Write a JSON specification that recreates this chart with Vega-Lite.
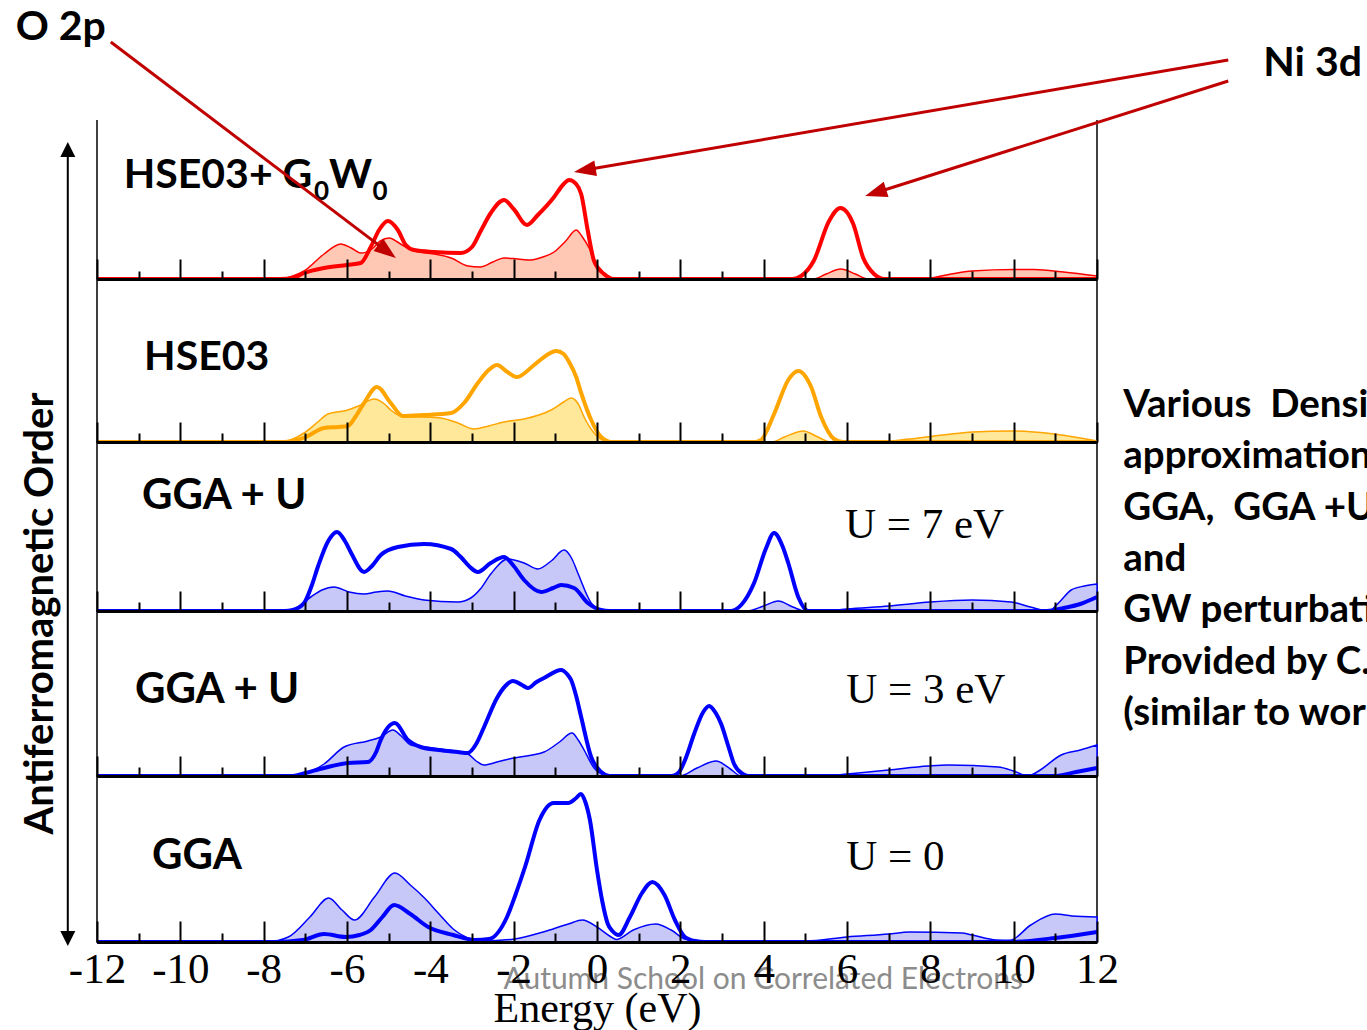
{
  "$schema": "https://vega.github.io/schema/vega-lite/v6.json",
  "background": "white",
  "autosize": {"type": "pad"},
  "padding": {"left": 15, "top": 0, "right": 0, "bottom": 0},
  "bounds": "flush",
  "spacing": 0,
  "config": {"view": {"stroke": "black", "strokeWidth": 1.5}},
  "datasets": {
    "p1_o": [{"E":-12,"dos":0},{"E":-7.6,"dos":0},{"E":-7.3,"dos":3},{"E":-7.03,"dos":8},{"E":-6.55,"dos":25},{"E":-6.15,"dos":35},{"E":-5.9,"dos":31},{"E":-5.67,"dos":26},{"E":-5.4,"dos":30},{"E":-5.2,"dos":38},{"E":-4.99,"dos":41},{"E":-4.75,"dos":36},{"E":-4.47,"dos":29},{"E":-3.91,"dos":25},{"E":-3.5,"dos":21},{"E":-3.1,"dos":13},{"E":-2.8,"dos":12},{"E":-2.5,"dos":17},{"E":-2.23,"dos":21},{"E":-1.9,"dos":20},{"E":-1.58,"dos":19},{"E":-1.3,"dos":22},{"E":-1.03,"dos":27},{"E":-0.75,"dos":38},{"E":-0.5,"dos":49},{"E":-0.35,"dos":42},{"E":-0.19,"dos":31},{"E":-0.02,"dos":15},{"E":0.2,"dos":3},{"E":0.4,"dos":0},{"E":5.2,"dos":0},{"E":5.5,"dos":5},{"E":5.85,"dos":10},{"E":6.2,"dos":5},{"E":6.5,"dos":0},{"E":7.6,"dos":0},{"E":8.0,"dos":1},{"E":8.5,"dos":5},{"E":9.0,"dos":8},{"E":10.0,"dos":9.5},{"E":10.5,"dos":9.5},{"E":11.2,"dos":7},{"E":12,"dos":3}],
    "p1_ni": [{"E":-12,"dos":0},{"E":-7.6,"dos":0},{"E":-7.3,"dos":1},{"E":-7.03,"dos":6},{"E":-6.55,"dos":11},{"E":-6.0,"dos":14},{"E":-5.67,"dos":16},{"E":-5.43,"dos":32},{"E":-5.23,"dos":49},{"E":-5.02,"dos":58},{"E":-4.78,"dos":49},{"E":-4.59,"dos":34},{"E":-4.39,"dos":29},{"E":-3.91,"dos":27},{"E":-3.27,"dos":26},{"E":-3.0,"dos":32},{"E":-2.79,"dos":48},{"E":-2.55,"dos":66},{"E":-2.23,"dos":79},{"E":-2.0,"dos":70},{"E":-1.68,"dos":54},{"E":-1.42,"dos":64},{"E":-1.03,"dos":82},{"E":-0.82,"dos":94},{"E":-0.67,"dos":99},{"E":-0.5,"dos":95},{"E":-0.38,"dos":85},{"E":-0.22,"dos":48},{"E":-0.07,"dos":18},{"E":0.17,"dos":5},{"E":0.4,"dos":0},{"E":4.7,"dos":0},{"E":4.9,"dos":3},{"E":5.2,"dos":18},{"E":5.57,"dos":58},{"E":5.84,"dos":71},{"E":6.15,"dos":55},{"E":6.39,"dos":21},{"E":6.65,"dos":5},{"E":6.9,"dos":0},{"E":12,"dos":0}],
    "p2_o": [{"E":-12,"dos":0},{"E":-7.6,"dos":0},{"E":-7.3,"dos":3},{"E":-7.03,"dos":9},{"E":-6.7,"dos":20},{"E":-6.46,"dos":28},{"E":-5.98,"dos":32},{"E":-5.67,"dos":37},{"E":-5.35,"dos":43},{"E":-5.1,"dos":38},{"E":-4.95,"dos":32},{"E":-4.63,"dos":25},{"E":-4.2,"dos":25},{"E":-3.75,"dos":24},{"E":-3.34,"dos":19},{"E":-2.95,"dos":13},{"E":-2.6,"dos":16},{"E":-2.23,"dos":20},{"E":-1.75,"dos":23},{"E":-1.1,"dos":32},{"E":-0.8,"dos":40},{"E":-0.62,"dos":44},{"E":-0.45,"dos":38},{"E":-0.31,"dos":25},{"E":-0.07,"dos":9},{"E":0.2,"dos":1},{"E":0.4,"dos":0},{"E":4.2,"dos":0},{"E":4.5,"dos":5},{"E":4.95,"dos":11},{"E":5.3,"dos":5},{"E":5.6,"dos":0},{"E":6.6,"dos":0},{"E":7.5,"dos":3},{"E":8.5,"dos":8},{"E":9.0,"dos":10},{"E":9.94,"dos":11},{"E":10.97,"dos":8},{"E":11.6,"dos":4},{"E":12,"dos":1}],
    "p2_ni": [{"E":-12,"dos":0},{"E":-7.5,"dos":0},{"E":-7.2,"dos":2},{"E":-6.99,"dos":5},{"E":-6.55,"dos":14},{"E":-6.2,"dos":15},{"E":-5.98,"dos":16},{"E":-5.8,"dos":25},{"E":-5.59,"dos":39},{"E":-5.28,"dos":55},{"E":-4.95,"dos":39},{"E":-4.66,"dos":26},{"E":-4.15,"dos":27},{"E":-3.5,"dos":29},{"E":-3.19,"dos":39},{"E":-2.86,"dos":59},{"E":-2.6,"dos":72},{"E":-2.4,"dos":77},{"E":-2.15,"dos":70},{"E":-1.92,"dos":65},{"E":-1.51,"dos":77},{"E":-1.2,"dos":87},{"E":-0.98,"dos":91},{"E":-0.8,"dos":88},{"E":-0.67,"dos":80},{"E":-0.5,"dos":65},{"E":-0.38,"dos":49},{"E":-0.14,"dos":22},{"E":0.1,"dos":5},{"E":0.35,"dos":0},{"E":3.8,"dos":0},{"E":3.94,"dos":2},{"E":4.25,"dos":28},{"E":4.59,"dos":62},{"E":4.83,"dos":71},{"E":5.14,"dos":55},{"E":5.38,"dos":25},{"E":5.69,"dos":3},{"E":5.9,"dos":0},{"E":12,"dos":0}],
    "p3_o": [{"E":-12,"dos":0},{"E":-7.5,"dos":0},{"E":-7.27,"dos":2},{"E":-6.87,"dos":14},{"E":-6.6,"dos":21},{"E":-6.31,"dos":24},{"E":-5.95,"dos":19},{"E":-5.59,"dos":17},{"E":-5.3,"dos":19},{"E":-5.02,"dos":20},{"E":-4.6,"dos":15},{"E":-4.15,"dos":11},{"E":-3.34,"dos":9},{"E":-3.03,"dos":13},{"E":-2.8,"dos":22},{"E":-2.55,"dos":37},{"E":-2.14,"dos":52},{"E":-1.75,"dos":48},{"E":-1.42,"dos":42},{"E":-1.1,"dos":50},{"E":-0.79,"dos":61},{"E":-0.6,"dos":52},{"E":-0.46,"dos":38},{"E":-0.14,"dos":8},{"E":0.1,"dos":1},{"E":0.3,"dos":0},{"E":3.6,"dos":0},{"E":4.0,"dos":5},{"E":4.35,"dos":10},{"E":4.7,"dos":4},{"E":5.0,"dos":0},{"E":5.5,"dos":0},{"E":6.0,"dos":2},{"E":7.0,"dos":5},{"E":8.0,"dos":9},{"E":9.0,"dos":11},{"E":9.94,"dos":9},{"E":10.4,"dos":4},{"E":10.83,"dos":0},{"E":11.1,"dos":9},{"E":11.38,"dos":21},{"E":11.7,"dos":25},{"E":12,"dos":27}],
    "p3_ni": [{"E":-12,"dos":0},{"E":-7.5,"dos":0},{"E":-7.3,"dos":1},{"E":-7.03,"dos":8},{"E":-6.85,"dos":25},{"E":-6.7,"dos":44},{"E":-6.45,"dos":70},{"E":-6.24,"dos":79},{"E":-6.05,"dos":70},{"E":-5.9,"dos":58},{"E":-5.59,"dos":39},{"E":-5.4,"dos":45},{"E":-5.19,"dos":56},{"E":-4.78,"dos":64},{"E":-4.15,"dos":67},{"E":-3.5,"dos":62},{"E":-3.27,"dos":54},{"E":-3.05,"dos":44},{"E":-2.86,"dos":39},{"E":-2.55,"dos":48},{"E":-2.23,"dos":54},{"E":-2.0,"dos":45},{"E":-1.75,"dos":31},{"E":-1.34,"dos":19},{"E":-1.05,"dos":23},{"E":-0.86,"dos":26},{"E":-0.55,"dos":23},{"E":-0.22,"dos":8},{"E":0.1,"dos":1},{"E":0.3,"dos":0},{"E":3.2,"dos":0},{"E":3.46,"dos":6},{"E":3.77,"dos":28},{"E":4.05,"dos":62},{"E":4.25,"dos":78},{"E":4.45,"dos":65},{"E":4.59,"dos":48},{"E":4.83,"dos":14},{"E":5.07,"dos":0},{"E":10.8,"dos":0},{"E":11.2,"dos":3},{"E":11.6,"dos":7},{"E":12,"dos":14}],
    "p4_o": [{"E":-12,"dos":0},{"E":-7.3,"dos":0},{"E":-7.1,"dos":2},{"E":-6.8,"dos":6},{"E":-6.55,"dos":12},{"E":-6.07,"dos":29},{"E":-5.5,"dos":35},{"E":-5.19,"dos":39},{"E":-4.9,"dos":46},{"E":-4.7,"dos":40},{"E":-4.47,"dos":31},{"E":-3.75,"dos":27},{"E":-3.1,"dos":22},{"E":-2.9,"dos":15},{"E":-2.71,"dos":11},{"E":-2.4,"dos":14},{"E":-2.0,"dos":18},{"E":-1.27,"dos":24},{"E":-0.9,"dos":34},{"E":-0.6,"dos":43},{"E":-0.45,"dos":36},{"E":-0.31,"dos":26},{"E":-0.07,"dos":8},{"E":0.2,"dos":1},{"E":0.4,"dos":0},{"E":2.0,"dos":0},{"E":2.4,"dos":8},{"E":2.86,"dos":15},{"E":3.2,"dos":7},{"E":3.46,"dos":0},{"E":5.5,"dos":0},{"E":6.0,"dos":2},{"E":7.0,"dos":6},{"E":7.95,"dos":10},{"E":8.43,"dos":11},{"E":9.63,"dos":9},{"E":10.0,"dos":5},{"E":10.35,"dos":0},{"E":10.6,"dos":5},{"E":11.14,"dos":21},{"E":11.6,"dos":26},{"E":12,"dos":31}],
    "p4_ni": [{"E":-12,"dos":0},{"E":-7.3,"dos":0},{"E":-7.0,"dos":3},{"E":-6.55,"dos":8},{"E":-5.98,"dos":13},{"E":-5.5,"dos":14},{"E":-5.3,"dos":24},{"E":-5.19,"dos":36},{"E":-4.85,"dos":53},{"E":-4.54,"dos":36},{"E":-4.23,"dos":29},{"E":-3.8,"dos":26},{"E":-3.34,"dos":24},{"E":-3.1,"dos":23},{"E":-2.9,"dos":32},{"E":-2.71,"dos":49},{"E":-2.4,"dos":78},{"E":-2.2,"dos":90},{"E":-2.02,"dos":95},{"E":-1.8,"dos":91},{"E":-1.66,"dos":88},{"E":-1.45,"dos":94},{"E":-1.27,"dos":98},{"E":-0.86,"dos":106},{"E":-0.72,"dos":102},{"E":-0.62,"dos":96},{"E":-0.5,"dos":80},{"E":-0.38,"dos":59},{"E":-0.14,"dos":19},{"E":0.1,"dos":4},{"E":0.3,"dos":0},{"E":1.8,"dos":0},{"E":1.97,"dos":4},{"E":2.15,"dos":20},{"E":2.33,"dos":42},{"E":2.55,"dos":64},{"E":2.69,"dos":70},{"E":2.85,"dos":63},{"E":2.98,"dos":52},{"E":3.15,"dos":30},{"E":3.29,"dos":12},{"E":3.5,"dos":2},{"E":3.63,"dos":0},{"E":10.97,"dos":0},{"E":11.5,"dos":4},{"E":12,"dos":8}],
    "p5_o": [{"E":-12,"dos":0},{"E":-7.93,"dos":0},{"E":-7.41,"dos":5},{"E":-6.89,"dos":25},{"E":-6.44,"dos":44},{"E":-6.12,"dos":32},{"E":-5.82,"dos":22},{"E":-5.34,"dos":45},{"E":-4.85,"dos":69},{"E":-4.48,"dos":57},{"E":-4.14,"dos":44},{"E":-3.79,"dos":28},{"E":-3.45,"dos":13},{"E":-3.02,"dos":3},{"E":-2.76,"dos":1},{"E":-1.98,"dos":3},{"E":-1.29,"dos":10},{"E":-0.69,"dos":18},{"E":-0.35,"dos":22},{"E":0.0,"dos":15},{"E":0.34,"dos":5},{"E":0.46,"dos":2.4},{"E":0.87,"dos":12},{"E":1.41,"dos":18},{"E":1.78,"dos":12},{"E":2.11,"dos":3},{"E":2.45,"dos":0.7},{"E":5.0,"dos":1},{"E":6.0,"dos":5},{"E":7.0,"dos":8},{"E":7.5,"dos":10},{"E":8.75,"dos":9},{"E":9.0,"dos":7},{"E":9.58,"dos":2},{"E":9.91,"dos":1.7},{"E":10.41,"dos":17},{"E":11.0,"dos":28},{"E":11.4,"dos":26},{"E":12,"dos":25}],
    "p5_ni": [{"E":-12,"dos":0},{"E":-7.75,"dos":0},{"E":-7.06,"dos":2},{"E":-6.55,"dos":8},{"E":-6.03,"dos":5},{"E":-5.7,"dos":7},{"E":-5.43,"dos":12},{"E":-5.15,"dos":25},{"E":-4.87,"dos":37},{"E":-4.48,"dos":28},{"E":-4.05,"dos":15},{"E":-3.45,"dos":7},{"E":-2.93,"dos":2},{"E":-2.59,"dos":3},{"E":-2.16,"dos":25},{"E":-1.95,"dos":48},{"E":-1.72,"dos":76},{"E":-1.38,"dos":122},{"E":-1.04,"dos":139},{"E":-0.69,"dos":139},{"E":-0.5,"dos":144},{"E":-0.39,"dos":148},{"E":-0.28,"dos":140},{"E":-0.17,"dos":122},{"E":0.0,"dos":72},{"E":0.13,"dos":40},{"E":0.26,"dos":18},{"E":0.37,"dos":11},{"E":0.52,"dos":7},{"E":0.79,"dos":25},{"E":1.08,"dos":49},{"E":1.33,"dos":60},{"E":1.62,"dos":47},{"E":1.87,"dos":22},{"E":2.11,"dos":5},{"E":2.36,"dos":1},{"E":2.6,"dos":0},{"E":9.9,"dos":0},{"E":11.0,"dos":4},{"E":12,"dos":10}]
  },
  "vconcat": [
    {
      "width": 1000, "height": 279,
      "view": {"stroke": null},
      "encoding": {"x": {"field": "E", "type": "quantitative", "scale": {"domain": [-12, 12], "nice": false, "zero": false},
        "axis": {"values": [-12,-11,-10,-9,-8,-7,-6,-5,-4,-3,-2,-1,0,1,2,3,4,5,6,7,8,9,10,11,12], "title": null, "labels": false, "grid": false, "domainColor": "black", "domainWidth": 3, "tickColor": "black", "tickWidth": 2, "tickSize": -20, "zindex": 1,
          "tickDash": {"condition": {"test": "datum.value % 2 !== 0", "value": [8, 40]}, "value": [40, 0]}}}},
      "layer": [
        {"data": {"name": "p1_o"}, "mark": {"type": "area", "interpolate": "monotone", "fill": "#FFC8B4", "stroke": "#FF0000", "strokeWidth": 1.5},
         "encoding": {"y": {"field": "dos", "type": "quantitative", "scale": {"domain": [0, 279], "nice": false, "zero": false}, "axis": null}}},
        {"data": {"name": "p1_ni"}, "mark": {"type": "line", "interpolate": "monotone", "color": "#FF0000", "strokeWidth": 4},
         "encoding": {"y": {"field": "dos", "type": "quantitative", "axis": null}}},
        {"data": {"values": [{"E": -12, "y": 0, "y2": 159}, {"E": 12, "y": 0, "y2": 159}]}, "mark": {"type": "rule", "color": "black", "strokeWidth": 1.5},
         "encoding": {"y": {"field": "y", "type": "quantitative", "axis": null}, "y2": {"field": "y2"}}},
        {"data": {"values": [{"E": -11.36, "y": 91, "label": "HSE03+ G"}, {"E": -6.435, "y": 91, "label": "W"}]}, "mark": {"type": "text", "align": "left", "baseline": "alphabetic", "font": "Lato", "fontWeight": "bold", "fontSize": 41, "color": "black"},
         "encoding": {"y": {"field": "y", "type": "quantitative", "axis": null}, "text": {"field": "label"}}},
        {"data": {"values": [{"E": -6.79, "y": 79, "label": "0"}, {"E": -5.39, "y": 79, "label": "0"}]}, "mark": {"type": "text", "align": "left", "baseline": "alphabetic", "font": "Lato", "fontWeight": "bold", "fontSize": 26, "color": "black"},
         "encoding": {"y": {"field": "y", "type": "quantitative", "axis": null}, "text": {"field": "label"}}},
        {"data": {"values": [{"E": -13.95, "y": 239, "label": "O 2p"}, {"E": 15.99, "y": 203, "label": "Ni 3d"}]}, "mark": {"type": "text", "align": "left", "baseline": "alphabetic", "font": "Lato", "fontWeight": "bold", "fontSize": 41, "color": "black"},
         "encoding": {"y": {"field": "y", "type": "quantitative", "axis": null}, "text": {"field": "label"}}},
        {"data": {"values": [{"E": -11.669, "y": 237, "E2": -5.04, "y2": 27.6}, {"E": 15.15, "y": 219, "E2": -0.293, "y2": 108.9}, {"E": 15.15, "y": 198, "E2": 6.687, "y2": 86.3}]},
         "mark": {"type": "rule", "color": "#C00000", "strokeWidth": 3},
         "encoding": {"x2": {"field": "E2"}, "y": {"field": "y", "type": "quantitative", "axis": null}, "y2": {"field": "y2"}}},
        {"data": {"values": [{"E": -5.037, "y": 27.6}]}, "mark": {"type": "point", "shape": "M0,-1L0.72,1L-0.72,1Z", "size": 484, "filled": true, "color": "#C00000", "opacity": 1, "angle": 127.16},
         "encoding": {"y": {"field": "y", "type": "quantitative", "axis": null}}},
        {"data": {"values": [{"E": -0.293, "y": 108.9}]}, "mark": {"type": "point", "shape": "M0,-1L0.72,1L-0.72,1Z", "size": 484, "filled": true, "color": "#C00000", "opacity": 1, "angle": 260.28},
         "encoding": {"y": {"field": "y", "type": "quantitative", "axis": null}}},
        {"data": {"values": [{"E": 6.687, "y": 86.3}]}, "mark": {"type": "point", "shape": "M0,-1L0.72,1L-0.72,1Z", "size": 484, "filled": true, "color": "#C00000", "opacity": 1, "angle": 252.42},
         "encoding": {"y": {"field": "y", "type": "quantitative", "axis": null}}},
        {"data": {"values": [{"E": -12.701, "y": 129.5, "y2": -659.5}]}, "mark": {"type": "rule", "color": "black", "strokeWidth": 2},
         "encoding": {"y": {"field": "y", "type": "quantitative", "axis": null}, "y2": {"field": "y2"}}},
        {"data": {"values": [{"E": -12.701, "y": 129.5}]}, "mark": {"type": "point", "shape": "M0,-1L1,1L-1,1Z", "size": 225, "filled": true, "color": "black", "opacity": 1, "angle": 0},
         "encoding": {"y": {"field": "y", "type": "quantitative", "axis": null}}},
        {"data": {"values": [{"E": -12.701, "y": -659.5}]}, "mark": {"type": "point", "shape": "M0,-1L1,1L-1,1Z", "size": 225, "filled": true, "color": "black", "opacity": 1, "angle": 180},
         "encoding": {"y": {"field": "y", "type": "quantitative", "axis": null}}},
        {"data": {"values": [{"E": -13.35, "y": -334.6, "label": "Antiferromagnetic Order"}]}, "mark": {"type": "text", "align": "center", "baseline": "middle", "angle": 270, "font": "Lato", "fontWeight": "bold", "fontSize": 40, "color": "black"},
         "encoding": {"y": {"field": "y", "type": "quantitative", "axis": null}, "text": {"field": "label"}}},
        {"data": {"values": [{"E": 12.63, "y": -138, "label": ["Various \u00a0Density functional", "approximations", "GGA, \u00a0GGA +U, \u00a0HSE03", "and", "GW perturbation theory", "Provided by C. Franchini", "(similar to work of others)"]}]},
         "mark": {"type": "text", "align": "left", "baseline": "alphabetic", "font": "Lato", "fontWeight": "bold", "fontSize": 38.5, "lineHeight": 51.3, "color": "black"},
         "encoding": {"y": {"field": "y", "type": "quantitative", "axis": null}, "text": {"field": "label"}}}
      ]
    },
    {
      "width": 1000, "height": 163,
      "encoding": {"x": {"field": "E", "type": "quantitative", "scale": {"domain": [-12, 12], "nice": false, "zero": false},
        "axis": {"values": [-12,-11,-10,-9,-8,-7,-6,-5,-4,-3,-2,-1,0,1,2,3,4,5,6,7,8,9,10,11,12], "title": null, "labels": false, "grid": false, "domainColor": "black", "domainWidth": 3, "tickColor": "black", "tickWidth": 2, "tickSize": -20, "zindex": 1,
          "tickDash": {"condition": {"test": "datum.value % 2 !== 0", "value": [9, 40]}, "value": [40, 0]}}}},
      "layer": [
        {"data": {"name": "p2_o"}, "mark": {"type": "area", "interpolate": "monotone", "fill": "#FFE89A", "stroke": "#FFA500", "strokeWidth": 1.5},
         "encoding": {"y": {"field": "dos", "type": "quantitative", "scale": {"domain": [0, 163], "nice": false, "zero": false}, "axis": null}}},
        {"data": {"name": "p2_ni"}, "mark": {"type": "line", "interpolate": "monotone", "color": "#FFA500", "strokeWidth": 4},
         "encoding": {"y": {"field": "dos", "type": "quantitative", "axis": null}}},
        {"data": {"values": [{"E": -10.87, "y": 71.7, "label": "HSE03"}]}, "mark": {"type": "text", "align": "left", "baseline": "alphabetic", "font": "Lato", "fontWeight": "bold", "fontSize": 41, "color": "black"},
         "encoding": {"y": {"field": "y", "type": "quantitative", "axis": null}, "text": {"field": "label"}}}
      ]
    },
    {
      "width": 1000, "height": 169,
      "encoding": {"x": {"field": "E", "type": "quantitative", "scale": {"domain": [-12, 12], "nice": false, "zero": false},
        "axis": {"values": [-12,-11,-10,-9,-8,-7,-6,-5,-4,-3,-2,-1,0,1,2,3,4,5,6,7,8,9,10,11,12], "title": null, "labels": false, "grid": false, "domainColor": "black", "domainWidth": 3, "tickColor": "black", "tickWidth": 2, "tickSize": -20, "zindex": 1,
          "tickDash": {"condition": {"test": "datum.value % 2 !== 0", "value": [9, 40]}, "value": [40, 0]}}}},
      "layer": [
        {"data": {"name": "p3_o"}, "mark": {"type": "area", "interpolate": "monotone", "fill": "#C8C8F8", "stroke": "#0000FF", "strokeWidth": 1.5},
         "encoding": {"y": {"field": "dos", "type": "quantitative", "scale": {"domain": [0, 169], "nice": false, "zero": false}, "axis": null}}},
        {"data": {"name": "p3_ni"}, "mark": {"type": "line", "interpolate": "monotone", "color": "#0000FF", "strokeWidth": 4},
         "encoding": {"y": {"field": "dos", "type": "quantitative", "axis": null}}},
        {"data": {"values": [{"E": -10.92, "y": 101.7, "label": "GGA + U"}]}, "mark": {"type": "text", "align": "left", "baseline": "alphabetic", "font": "Lato", "fontWeight": "bold", "fontSize": 42, "color": "black"},
         "encoding": {"y": {"field": "y", "type": "quantitative", "axis": null}, "text": {"field": "label"}}},
        {"data": {"values": [{"E": 5.95, "y": 72.7, "label": "U = 7 eV"}]}, "mark": {"type": "text", "align": "left", "baseline": "alphabetic", "font": "Liberation Serif", "fontSize": 43, "color": "black"},
         "encoding": {"y": {"field": "y", "type": "quantitative", "axis": null}, "text": {"field": "label"}}}
      ]
    },
    {
      "width": 1000, "height": 165,
      "encoding": {"x": {"field": "E", "type": "quantitative", "scale": {"domain": [-12, 12], "nice": false, "zero": false},
        "axis": {"values": [-12,-11,-10,-9,-8,-7,-6,-5,-4,-3,-2,-1,0,1,2,3,4,5,6,7,8,9,10,11,12], "title": null, "labels": false, "grid": false, "domainColor": "black", "domainWidth": 3, "tickColor": "black", "tickWidth": 2, "tickSize": -20, "zindex": 1,
          "tickDash": {"condition": {"test": "datum.value % 2 !== 0", "value": [9, 40]}, "value": [40, 0]}}}},
      "layer": [
        {"data": {"name": "p4_o"}, "mark": {"type": "area", "interpolate": "monotone", "fill": "#C8C8F8", "stroke": "#0000FF", "strokeWidth": 1.5},
         "encoding": {"y": {"field": "dos", "type": "quantitative", "scale": {"domain": [0, 165], "nice": false, "zero": false}, "axis": null}}},
        {"data": {"name": "p4_ni"}, "mark": {"type": "line", "interpolate": "monotone", "color": "#0000FF", "strokeWidth": 4},
         "encoding": {"y": {"field": "dos", "type": "quantitative", "axis": null}}},
        {"data": {"values": [{"E": -11.09, "y": 72.7, "label": "GGA + U"}]}, "mark": {"type": "text", "align": "left", "baseline": "alphabetic", "font": "Lato", "fontWeight": "bold", "fontSize": 42, "color": "black"},
         "encoding": {"y": {"field": "y", "type": "quantitative", "axis": null}, "text": {"field": "label"}}},
        {"data": {"values": [{"E": 5.98, "y": 72.7, "label": "U = 3 eV"}]}, "mark": {"type": "text", "align": "left", "baseline": "alphabetic", "font": "Liberation Serif", "fontSize": 43, "color": "black"},
         "encoding": {"y": {"field": "y", "type": "quantitative", "axis": null}, "text": {"field": "label"}}}
      ]
    },
    {
      "width": 1000, "height": 166,
      "encoding": {"x": {"field": "E", "type": "quantitative", "scale": {"domain": [-12, 12], "nice": false, "zero": false},
        "axis": {"values": [-12,-11,-10,-9,-8,-7,-6,-5,-4,-3,-2,-1,0,1,2,3,4,5,6,7,8,9,10,11,12], "title": "Energy (eV)", "grid": false, "domainColor": "black", "domainWidth": 3, "tickColor": "black", "tickWidth": 2, "tickSize": -21, "zindex": 1,
          "tickDash": {"condition": {"test": "datum.value % 2 !== 0", "value": [9, 40]}, "value": [40, 0]},
          "labels": true, "labelExpr": "datum.value % 2 === 0 ? '' + datum.value : ''", "labelFont": "Liberation Serif", "labelFontSize": 43, "labelColor": "black", "labelPadding": 27, "labelFlush": false, "labelOverlap": false,
          "titleFont": "Liberation Serif", "titleFontSize": 42, "titleFontWeight": "normal", "titleColor": "black", "titlePadding": -3}}},
      "layer": [
        {"data": {"name": "p5_o"}, "mark": {"type": "area", "interpolate": "monotone", "fill": "#C8C8F8", "stroke": "#0000FF", "strokeWidth": 1.5},
         "encoding": {"y": {"field": "dos", "type": "quantitative", "scale": {"domain": [0, 166], "nice": false, "zero": false}, "axis": null}}},
        {"data": {"name": "p5_ni"}, "mark": {"type": "line", "interpolate": "monotone", "color": "#0000FF", "strokeWidth": 4},
         "encoding": {"y": {"field": "dos", "type": "quantitative", "axis": null}}},
        {"data": {"values": [{"E": -10.68, "y": 72.7, "label": "GGA"}]}, "mark": {"type": "text", "align": "left", "baseline": "alphabetic", "font": "Lato", "fontWeight": "bold", "fontSize": 42, "color": "black"},
         "encoding": {"y": {"field": "y", "type": "quantitative", "axis": null}, "text": {"field": "label"}}},
        {"data": {"values": [{"E": 5.98, "y": 71.7, "label": "U = 0"}]}, "mark": {"type": "text", "align": "left", "baseline": "alphabetic", "font": "Liberation Serif", "fontSize": 43, "color": "black"},
         "encoding": {"y": {"field": "y", "type": "quantitative", "axis": null}, "text": {"field": "label"}}},
        {"data": {"values": [{"E": 3.99, "y": -47.3, "label": "Autumn School on Correlated Electrons"}]}, "mark": {"type": "text", "align": "center", "baseline": "alphabetic", "font": "Lato", "fontSize": 30, "color": "#8C8C8C"},
         "encoding": {"y": {"field": "y", "type": "quantitative", "axis": null}, "text": {"field": "label"}}}
      ]
    }
  ]
}
